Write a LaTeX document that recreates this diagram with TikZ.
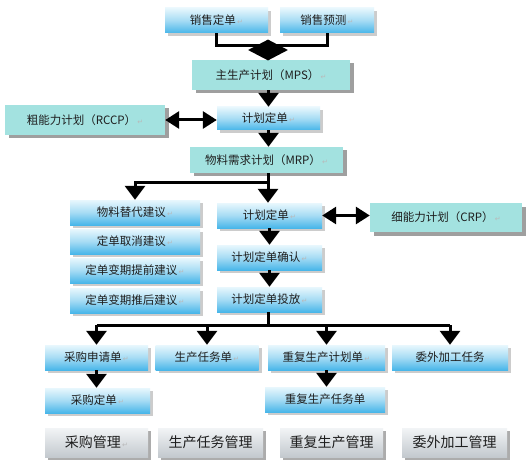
\documentclass[tikz,border=0pt]{standalone}
\usepackage{fontspec}
\setmainfont{Noto Sans CJK SC}
\newfontfamily\dejavu{DejaVu Sans}
\usetikzlibrary{shadows,arrows.meta,shapes.geometric}
\definecolor{tealbox}{HTML}{A3E2E0}
\definecolor{bluebot}{HTML}{48B6E9}
\definecolor{bluemid}{HTML}{A6DCF4}
\definecolor{bluetop}{HTML}{E8F7FD}
\definecolor{graytop}{HTML}{F2F4F6}
\definecolor{graybot}{HTML}{C3C9CE}
\definecolor{txt}{HTML}{1E1E1E}
\newcommand\rt{{\dejavu\fontsize{7}{8}\selectfont\color{gray!55}\,↵}}
\tikzset{
  base/.style={inner sep=0pt, text=txt, font=\fontsize{11.5}{13}\selectfont},
  bluebox/.style={base, top color=bluetop, bottom color=bluebot, middle color=bluemid,
    drop shadow={shadow xshift=3pt, shadow yshift=-3pt, fill=gray!40, opacity=1}},
  tbox/.style={base, fill=tealbox,
    drop shadow={shadow xshift=3.5pt, shadow yshift=-3.5pt, fill=gray!75, opacity=1}},
  graybox/.style={base, top color=graytop, bottom color=graybot, font=\fontsize{14}{16}\selectfont,
    drop shadow={shadow xshift=3pt, shadow yshift=-3pt, fill=gray!65, opacity=1}},
  ln/.style={line width=3pt, black},
  arr/.style={line width=3pt, black, -{Triangle[width=20pt,length=14pt]}},
  dbl/.style={line width=3pt, black, {Triangle[width=17pt,length=14pt]}-{Triangle[width=17pt,length=14pt]}},
}
\begin{document}
\begin{tikzpicture}[x=1pt,y=-1pt]
\useasboundingbox[fill=white] (0,0) rectangle (527,465);
% top
\node[bluebox, minimum width=103, minimum height=25] (so) at (216.5,20.5) {销售定单\rt};
\node[bluebox, minimum width=94, minimum height=25] (sf) at (327,20.5) {销售预测\rt};
\node[tbox, minimum width=158, minimum height=30] (mps) at (271,75) {主生产计划（MPS）\rt};
\draw[ln] (so.south) -- ++(0,12) coordinate (j1) -| (sf.south);
\node[diamond, fill=black, minimum width=40, minimum height=21, inner sep=0pt] (dm) at (268,50) {};
% RCCP row
\node[tbox, minimum width=160, minimum height=30] (rccp) at (85,120) {粗能力计划（RCCP）\rt};
\node[bluebox, minimum width=103, minimum height=23] (po1) at (268.5,118.5) {计划定单\rt};
\draw[arr] (po1.north |- mps.south) -- (po1.north);
\draw[dbl] (rccp.east) -- (rccp.east -| po1.west);
\node[tbox, minimum width=153, minimum height=26] (mrp) at (266.5,160) {物料需求计划（MRP）\rt};
\draw[arr] (po1.south) -- (po1.south |- mrp.north);
% middle section
\node[bluebox, minimum width=130, minimum height=25] (l1) at (135,212.5) {物料替代建议\rt};
\node[bluebox, minimum width=130, minimum height=25] (l2) at (135,241.5) {定单取消建议\rt};
\node[bluebox, minimum width=130, minimum height=25] (l3) at (135,270.5) {定单变期提前建议\rt};
\node[bluebox, minimum width=130, minimum height=25] (l4) at (135,300.5) {定单变期推后建议\rt};
\node[bluebox, minimum width=105, minimum height=25] (po2) at (269.5,215.5) {计划定单\rt};
\node[bluebox, minimum width=105, minimum height=25] (pc) at (269.5,257.5) {计划定单确认\rt};
\node[bluebox, minimum width=105, minimum height=25] (pr) at (269.5,299.5) {计划定单投放\rt};
\node[tbox, minimum width=152, minimum height=29] (crp) at (446,217.5) {细能力计划（CRP）\rt};
\draw[ln] (mrp.south -| 268,0) -- (268,183) coordinate (j2);
\draw[arr] (j2) -- (j2 |- po2.north);
\draw[arr] (j2) -| (l1.north);
\draw[dbl] (po2.east) -- (po2.east -| crp.west);
\draw[arr] (po2.south) -- (pc.north);
\draw[arr] (pc.south) -- (pr.north);
% bottom rows
\node[bluebox, minimum width=103, minimum height=25] (r1) at (96.5,357.5) {采购申请单\rt};
\node[bluebox, minimum width=103, minimum height=25] (r2) at (207,357.5) {生产任务单\rt};
\node[bluebox, minimum width=117, minimum height=25] (r3) at (326.5,357.5) {重复生产计划单\rt};
\node[bluebox, minimum width=116, minimum height=25] (r4) at (450,357.5) {委外加工任务};
\node[bluebox, minimum width=105, minimum height=25] (p1) at (97.5,400.5) {采购定单\rt};
\node[bluebox, minimum width=120, minimum height=25] (p3) at (325,399.5) {重复生产任务单};
\draw[ln] (pr.south -| 268,0) -- (268,325) coordinate (j3);
\draw[ln] (j3 -| r1.north) -- (j3 -| r4.north);
\draw[arr] (j3 -| r1.north) -- (r1.north);
\draw[arr] (j3 -| r2.north) -- (r2.north);
\draw[arr] (j3 -| r3.north) -- (r3.north);
\draw[arr] (j3 -| r4.north) -- (r4.north);
\draw[arr] (r1.south) -- (r1.south |- p1.north);
\draw[arr] (r3.south) -- (r3.south |- p3.north);
% management boxes
\node[graybox, minimum width=103, minimum height=29] (g1) at (96.5,442.5) {采购管理\rt};
\node[graybox, minimum width=105, minimum height=29] (g2) at (210.5,442.5) {生产任务管理};
\node[graybox, minimum width=103, minimum height=29] (g3) at (331.5,442.5) {重复生产管理};
\node[graybox, minimum width=105, minimum height=29] (g4) at (454.5,442.5) {委外加工管理};
\end{tikzpicture}
\end{document}
